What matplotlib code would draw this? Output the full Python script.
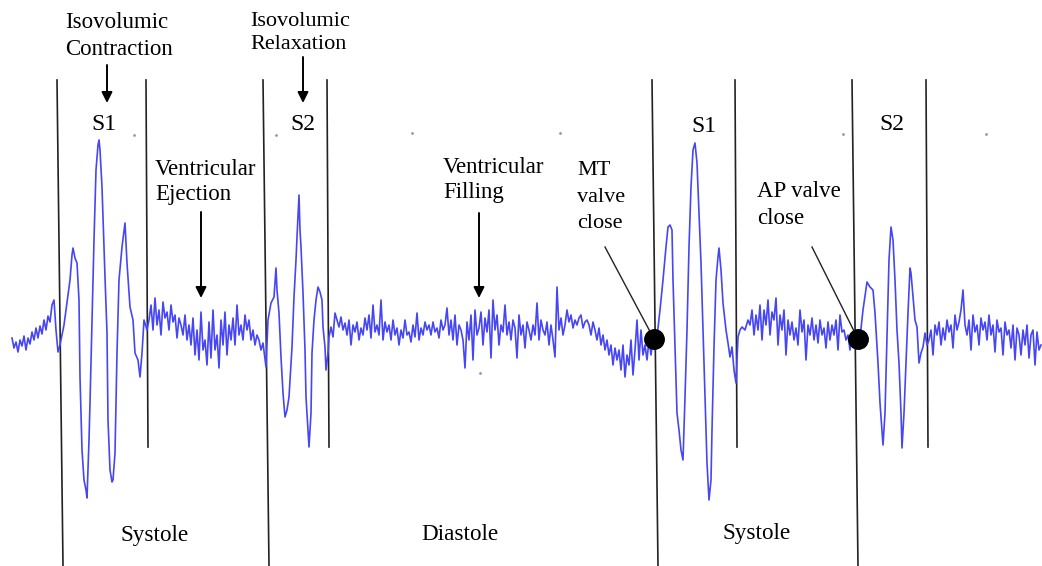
import numpy as np
import matplotlib
matplotlib.use("Agg")
import matplotlib.pyplot as plt

plt.rcParams['font.family'] = ['Liberation Serif', 'DejaVu Serif']

# Heart sound trace (time in samples, amplitude in arbitrary units, baseline = 0)
# Lead-in before first S1
pre_t = list(range(12, 60, 2))
pre_a = [2, -8, -2, -12, 0, -6, 4, -10, 2, -4, 8, 0, 12, 2, 14, 6, 20, 10, 24, 18, 35, 40, 10, -12]

# First S1 burst
s1a_t = [60, 62, 64, 66, 68, 70, 72, 73, 75, 77, 79, 80, 82, 84, 86, 87, 89, 90, 92, 94, 96, 98, 99,
         100, 102, 105, 107, 108, 110, 112, 113, 115, 117, 119, 122, 125, 127, 130, 133, 135, 138,
         140, 142, 144, 147]
s1a_a = [-5, 5, 15, 30, 45, 60, 85, 92, 82, 77, 40, -37, -110, -140, -150, -158, -100, -63, 20, 100,
         170, 195, 200, 190, 153, 63, 7, -80, -130, -142, -140, -113, -13, 60, 93, 117, 77, 33, 20,
         -13, -20, -37, -13, 20, 10]

# Ventricular ejection
eje_t = list(range(149, 263, 2))
eje_a = [20, 35, 10, 42, 15, 30, 5, 38, 22, 28, 10, 35, 18, 25, 2, 22, 15, 5, 25, 0,
         15, -5, 22, -15, 10, -20, 28, -10, 0, -25, 18, -18, 30, -10, 5, -28, 20, -5, 28, -15,
         15, 0, 22, -5, 35, 5, 15, 0, 25, 10, 20, 0, 10, -5, 5, 0, -10]

# First S2 burst
s2a_t = [263, 266, 268, 271, 274, 276, 277, 279, 281, 283, 285, 287, 289, 292, 294, 296, 297, 299,
         300, 301, 303, 305, 306, 308, 309, 311, 312, 314, 316, 318, 320, 322, 323, 325, 326, 328,
         329, 331, 333, 335, 337, 339, 341, 343, 345]
s2a_a = [-3, -27, 20, 37, 43, 72, 50, 27, -17, -53, -77, -70, -57, -7, 43, 80, 103, 145, 110, 93,
         47, -10, -57, -90, -107, -73, -13, 20, 40, 53, 48, 40, 13, -7, -30, -13, 3, 13, 3, 27, 20,
         13, 23, 10, 17]

# Diastole / ventricular filling
dia_t = list(range(347, 655, 2))
dia_a = [5, 20, -5, 15, 8, 18, 0, 12, 5, 22,
         10, 25, 2, 35, 8, 15, 5, 40, 0, 18,
         8, 15, 0, 20, 5, 12, -5, 10, 2, 20,
         5, 8, -2, 15, 3, 27, 0, 12, 5, 18,
         10, 15, 5, 18, 8, 12, 2, 20, 10, 15,
         32, 5, 20, 0, 25, -5, 15, 10, 0, -28,
         18, 0, 25, -20, 30, 5, 12, 28, -5, 22,
         8, 30, -18, 40, 10, 25, -5, 15, 8, 35,
         5, 18, 0, 20, 12, -18, 25, 5, 15, -8,
         18, 10, 0, 15, 5, 37, 0, 20, 10, 5,
         18, -5, 15, 0, -17, 53, 10, 22, 5, 15,
         30, 18, 25, 12, 20, 15, 22, 25, 12, 18,
         20, 15, 5, 18, 10, 0, 12, -5, 5, -10,
         0, -15, -5, -25, -8, -20, -10, -30, -5, -37,
         -15, -25, 0, -35, -10, 20, -20, 10, -15, -5,
         -20, 0, -15, 3]

# Second S1 burst
s1b_t = [655, 657, 660, 663, 666, 668, 670, 672, 673, 675, 677, 679, 681, 683, 685, 687, 689, 691,
         693, 695, 697, 699, 701, 703, 705, 707, 709, 711, 712, 714, 716, 718, 719, 721, 723, 726,
         728, 730, 732, 734, 736, 738, 740, 742, 745, 748]
s1b_a = [-10, 3, 30, 60, 93, 113, 115, 110, 60, -7, -73, -90, -110, -120, -57, 10, 93, 153, 190,
         197, 177, 127, 77, 10, -57, -123, -160, -140, -90, -7, 60, 83, 92, 70, 37, 10, -3, -17, -7,
         -30, -43, 3, 10, 13, 10, 20]

# Ventricular ejection (second beat)
ej2_t = list(range(750, 858, 2))
ej2_a = [15, 30, 5, 25, 10, 35, 0, 30, 15, 40,
         5, 28, 20, 42, -5, 25, 10, 30, -15, 20,
         5, 18, 0, 12, -5, 30, 8, 20, -20, 15,
         5, 22, 0, 15, -3, 20, 5, 12, -8, 18,
         0, 15, 5, 20, -10, 25, 8, 10, 0, 5,
         -10, 5, -8, 0]

# Second S2 burst
s2b_t = [859, 863, 867, 870, 873, 875, 878, 880, 883, 885, 888, 889, 891, 893, 895, 897, 899, 901,
         902, 904, 906, 908, 910, 911, 913, 915, 917, 919, 921, 923, 925, 927]
s2b_a = [-7, 30, 58, 53, 50, 27, -23, -63, -105, -73, 40, 80, 113, 100, 60, 10, -23, -73, -108,
         -73, -23, 27, 72, 67, 43, 20, 13, -23, -13, -7, 7, -5]

# Tail after second S2
tail_t = list(range(929, 1042, 2))
tail_a = [0, 10, -15, 15, 5, 18, -5, 12, 0, 20,
          8, 15, -8, 25, 10, 18, 30, 50, 15, 5,
          20, -10, 25, 8, 15, -5, 22, 10, 18, 0,
          25, 5, 15, -12, 20, 8, 12, -15, 18, 5,
          10, -8, 15, -20, 12, 5, -15, 10, -5, 15,
          -18, 5, 10, -25, 8, -10, -5]

time = pre_t + s1a_t + eje_t + s2a_t + dia_t + s1b_t + ej2_t + s2b_t + tail_t
amp = pre_a + s1a_a + eje_a + s2a_a + dia_a + s1b_a + ej2_a + s2b_a + tail_a

# Phase boundaries (long lines = start of systole/diastole, short lines = end of S1/S2)
long_lines = [57, 263, 652, 852]
short_lines = [146, 327, 735, 926]

# Valve closure points
valve_t = [654, 858]
valve_a = [1, 1]

fig = plt.figure(figsize=(10.42, 5.66), dpi=100)
ax = fig.add_axes([0, 0, 1, 1])
ax.set_xlim(0, 1042)
ax.set_ylim(-226, 340)
ax.axis('off')

ax.plot(time, amp, color='#4646f5', lw=1.2, zorder=2)

for t in long_lines:
    ax.plot([t, t + 6], [260, -226], color='#222222', lw=1.2, zorder=1)
for t in short_lines:
    ax.plot([t, t + 2], [260, -107], color='#222222', lw=1.2, zorder=1)

# valve close leaders + dots
ax.plot([605, valve_t[0]], [93, valve_a[0]], color='#222222', lw=1.0, zorder=3)
ax.plot([812, valve_t[1]], [93, valve_a[1]], color='#222222', lw=1.0, zorder=3)
ax.plot(valve_t, valve_a, 'o', color='black', ms=14, zorder=4)

# arrows
arr = dict(arrowstyle='-|>', color='black', lw=1.4, mutation_scale=16, shrinkA=0, shrinkB=0)
ax.annotate('', xy=(107, 237), xytext=(107, 275), arrowprops=arr)
ax.annotate('', xy=(303, 237), xytext=(303, 283), arrowprops=arr)
ax.annotate('', xy=(201, 42), xytext=(201, 128), arrowprops=arr)
ax.annotate('', xy=(479, 42), xytext=(479, 127), arrowprops=arr)

# labels
ax.text(65, 304, 'Isovolumic\nContraction', fontsize=16.5, ha='left', va='center', linespacing=1.35)
ax.text(250, 307, 'Isovolumic\nRelaxation', fontsize=16, ha='left', va='center', linespacing=1.25)
ax.text(104, 215, 'S1', fontsize=17, ha='center', va='center')
ax.text(303, 215, 'S2', fontsize=17, ha='center', va='center')
ax.text(704, 213, 'S1', fontsize=17, ha='center', va='center')
ax.text(892, 216, 'S2', fontsize=17, ha='center', va='center')
ax.text(155, 158, 'Ventricular\nEjection', fontsize=16.5, ha='left', va='center', linespacing=1.22)
ax.text(443, 160, 'Ventricular\nFilling', fontsize=16.5, ha='left', va='center', linespacing=1.22)
ax.text(577, 143, 'MT\nvalve\nclose', fontsize=16, ha='left', va='center', linespacing=1.55)
ax.text(757, 135, 'AP valve\nclose', fontsize=16.5, ha='left', va='center', linespacing=1.35)
ax.text(155, -195, 'Systole', fontsize=16.7, ha='center', va='center')
ax.text(460, -195, 'Diastole', fontsize=16.7, ha='center', va='center')
ax.text(757, -194, 'Systole', fontsize=16.7, ha='center', va='center')

# faint stray specks from the scanned figure
speck_t = [134, 276, 412, 560, 480, 843, 986]
speck_a = [205, 205, 207, 207, -33, 206, 206]
ax.plot(speck_t, speck_a, '.', color='#999999', ms=2)

fig.savefig('out.png', dpi=100)
